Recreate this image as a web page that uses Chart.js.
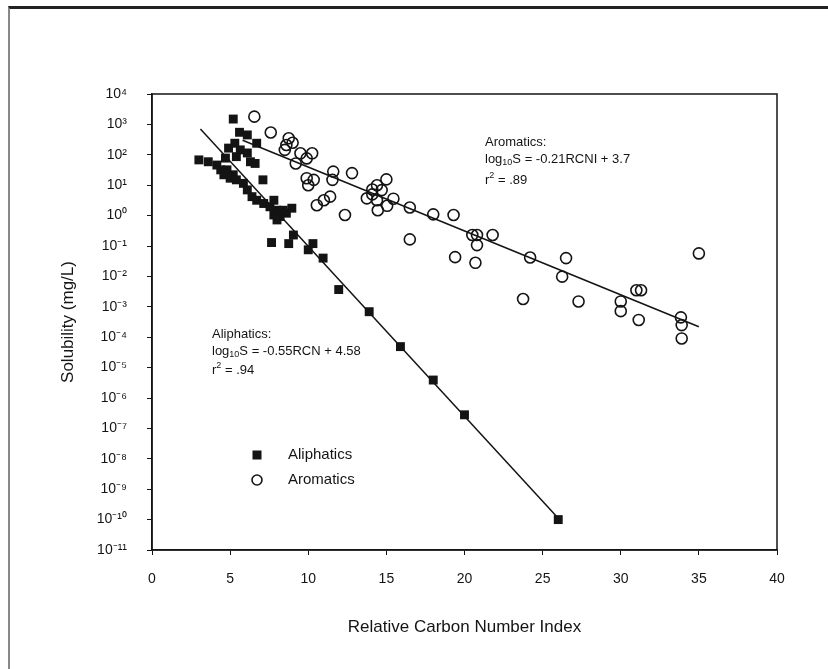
<!DOCTYPE html>
<html>
<head>
<meta charset="utf-8">
<script src="https://cdn.jsdelivr.net/npm/chart.js@4.4.0/dist/chart.umd.min.js"></script>
<style>
html, body { margin: 0; padding: 0; background: #fff; }
#wrap { position: relative; width: 828px; height: 669px; overflow: hidden; }
#frame { position: absolute; left: 8px; top: 6px; right: -4px; bottom: -4px; border-top: 3px solid #222; border-left: 2px solid #888; }
canvas { position: absolute; left: 0; top: 0; }
</style>
</head>
<body>
<div id="wrap">
  <div id="frame"></div>
  <canvas id="solChart" width="828" height="669"></canvas>
</div>
<script>
// Aliphatics (filled squares)
var aliX = [3.0, 3.6, 4.15, 4.4, 4.8, 4.6, 5.2, 4.7, 4.9, 5.2, 5.3, 5.4, 5.6, 5.65, 6.1, 6.1, 6.3, 6.6, 6.7,
            5.0, 5.4, 5.85, 6.1, 6.4, 6.7, 7.1, 7.15, 7.55, 7.8, 8.0, 7.8, 8.6, 8.95, 8.2, 8.0, 8.4,
            7.65, 8.75, 9.05, 10.0, 10.3, 10.95, 11.95, 13.9, 15.9, 18.0, 20.0, 26.0];
var aliY = [68, 59, 46, 32, 32, 22, 22, 78, 166, 1500, 240, 87, 550, 145, 450, 115, 59, 52, 240,
            17, 15, 11.5, 7, 4.2, 3.2, 15, 2.5, 1.95, 3.2, 1.5, 1.05, 1.2, 1.75, 0.93, 0.72, 1.5,
            0.13, 0.12, 0.23, 0.075, 0.12, 0.04, 0.0037, 0.00069, 4.9e-5, 3.9e-6, 2.8e-7, 1e-10];

// Aromatics (open circles)
var aroX = [6.55, 7.6, 8.75, 8.6, 8.5, 9.0, 9.5, 9.9, 10.25, 9.2, 9.9, 10.35, 10.0, 11.6, 11.55, 12.8,
            10.55, 11.0, 11.4, 12.35, 14.1, 14.4, 15.0, 14.7, 13.75, 14.4, 15.45, 15.05, 14.45, 14.1,
            16.5, 18.0, 19.3, 16.5, 20.5, 20.8, 21.8, 20.8, 19.4, 20.7, 24.2, 26.5, 26.25, 23.75,
            27.3, 30.0, 30.0, 31.0, 31.3, 31.15, 33.85, 33.9, 33.9, 35.0];
var aroY = [1800, 540, 350, 210, 145, 250, 112, 76, 112, 52, 17, 15, 10, 28, 15, 25,
            2.2, 3.2, 4.2, 1.05, 7.2, 10, 15.5, 6.9, 3.7, 3.2, 3.6, 2.1, 1.5, 5.0,
            1.85, 1.1, 1.05, 0.165, 0.23, 0.23, 0.23, 0.107, 0.043, 0.028, 0.042, 0.04, 0.0098, 0.0018,
            0.0015, 0.0015, 0.00072, 0.0035, 0.0035, 0.00037, 0.00045, 0.00025, 0.000091, 0.057];

// regression lines, end points
var aliFitX = [3.1, 26.0];
var aliFitY = [700, 1.1e-10];
var aroFitX = [5.8, 35.0];
var aroFitY = [300, 2.2e-4];

// axis ticks
var yTickExps = [-11, -10, -9, -8, -7, -6, -5, -4, -3, -2, -1, 0, 1, 2, 3, 4];
var yTickLabels = ['10⁻¹¹', '10⁻¹⁰', '10⁻⁹', '10⁻⁸', '10⁻⁷', '10⁻⁶', '10⁻⁵', '10⁻⁴',
                   '10⁻³', '10⁻²', '10⁻¹', '10⁰', '10¹', '10²', '10³', '10⁴'];

function pairs(xs, ys) {
    return xs.map(function (x, i) { return { x: x, y: ys[i] }; });
}

var ink = '#141414';
var fontFam = '"Liberation Sans", Arial, sans-serif';

// box round the plot area
var boxPlugin = {
    id: 'box',
    beforeDatasetsDraw: function (chart) {
        var a = chart.chartArea, c = chart.ctx;
        c.save();
        c.strokeStyle = ink;
        c.lineWidth = 1.5;
        c.strokeRect(a.left, a.top, a.right - a.left, a.bottom - a.top);
        c.restore();
    }
};

// equations and legend inside the plot
function subText(c, x, y, parts) {
    // parts: [text, shift] ; shift 0 normal, 1 sub, -1 sup
    parts.forEach(function (p) {
        var small = p[1] !== 0;
        c.font = (small ? '9px ' : '13px ') + fontFam;
        c.fillText(p[0], x, y + p[1] * 4);
        x += c.measureText(p[0]).width;
    });
}

var notesPlugin = {
    id: 'notes',
    afterDatasetsDraw: function (chart) {
        var a = chart.chartArea, c = chart.ctx;
        c.save();
        c.fillStyle = ink;
        c.textBaseline = 'middle';

        var x1 = a.left + 60, y1 = a.top + 240;
        subText(c, x1, y1, [['Aliphatics:', 0]]);
        subText(c, x1, y1 + 17, [['log', 0], ['10', 1], ['S = -0.55RCN + 4.58', 0]]);
        subText(c, x1, y1 + 36, [['r', 0], ['2', -1], [' = .94', 0]]);

        var x2 = a.left + 333, y2 = a.top + 48;
        subText(c, x2, y2, [['Aromatics:', 0]]);
        subText(c, x2, y2 + 17, [['log', 0], ['10', 1], ['S = -0.21RCNI + 3.7', 0]]);
        subText(c, x2, y2 + 38, [['r', 0], ['2', -1], [' = .89', 0]]);

        // legend
        var lx = a.left + 105, ly = a.top + 361;
        var ali = chart.data.datasets[0], aro = chart.data.datasets[1];
        c.fillRect(lx - 4.5, ly - 4.5, 9, 9);
        c.beginPath();
        c.lineWidth = 1.6;
        c.strokeStyle = ink;
        c.arc(lx, ly + 25, 5, 0, Math.PI * 2);
        c.stroke();
        c.font = '15px ' + fontFam;
        c.fillText(ali.label, lx + 31, ly);
        c.fillText(aro.label, lx + 31, ly + 25);
        c.restore();
    }
};

var ctx = document.getElementById('solChart').getContext('2d');
var solChart = new Chart(ctx, {
    type: 'scatter',
    data: {
        datasets: [{
            label: 'Aliphatics',
            data: pairs(aliX, aliY),
            pointStyle: 'rect',
            pointRadius: 6.3,
            backgroundColor: ink,
            borderWidth: 0
        }, {
            label: 'Aromatics',
            data: pairs(aroX, aroY),
            pointStyle: 'circle',
            pointRadius: 5.5,
            backgroundColor: 'rgba(255,255,255,0)',
            borderColor: ink,
            borderWidth: 1.6
        }, {
            label: 'Aliphatic fit',
            data: pairs(aliFitX, aliFitY),
            showLine: true,
            pointRadius: 0,
            borderColor: ink,
            borderWidth: 1.5
        }, {
            label: 'Aromatic fit',
            data: pairs(aroFitX, aroFitY),
            showLine: true,
            pointRadius: 0,
            borderColor: ink,
            borderWidth: 1.5
        }]
    },
    options: {
        responsive: false,
        animation: false,
        layout: { padding: { top: 94, right: 51, left: 0, bottom: 0 } },
        plugins: {
            legend: { display: false },
            tooltip: { enabled: false }
        },
        scales: {
            x: {
                type: 'linear',
                min: 0,
                max: 40,
                afterFit: function (s) { s.height = 119; },
                ticks: {
                    stepSize: 5,
                    color: ink,
                    padding: 16,
                    maxRotation: 0,
                    font: { family: fontFam, size: 14 }
                },
                grid: { display: true, drawOnChartArea: false, drawTicks: true, tickLength: 5, color: ink },
                border: { display: true, color: ink, width: 1.5 },
                title: {
                    display: true,
                    text: 'Relative Carbon Number Index',
                    color: ink,
                    font: { family: fontFam, size: 17 },
                    padding: { top: 0, bottom: 31 }
                }
            },
            y: {
                type: 'logarithmic',
                min: 1e-11,
                max: 1e4,
                afterFit: function (s) { s.width = 152; },
                afterBuildTicks: function (s) {
                    s.ticks = yTickExps.map(function (e) { return { value: Math.pow(10, e) }; });
                },
                ticks: {
                    color: ink,
                    padding: 20,
                    font: { family: fontFam, size: 14 },
                    callback: function (v) {
                        var i = yTickExps.indexOf(Math.round(Math.log10(v)));
                        return i >= 0 ? yTickLabels[i] : '';
                    }
                },
                grid: { display: true, drawOnChartArea: false, drawTicks: true, tickLength: 5, color: ink },
                border: { display: true, color: ink, width: 1.5 },
                title: {
                    display: true,
                    text: 'Solubility (mg/L)',
                    color: ink,
                    font: { family: fontFam, size: 17 },
                    padding: { top: 58, bottom: 0 }
                }
            }
        }
    },
    plugins: [boxPlugin, notesPlugin]
});
</script>
</body>
</html>
